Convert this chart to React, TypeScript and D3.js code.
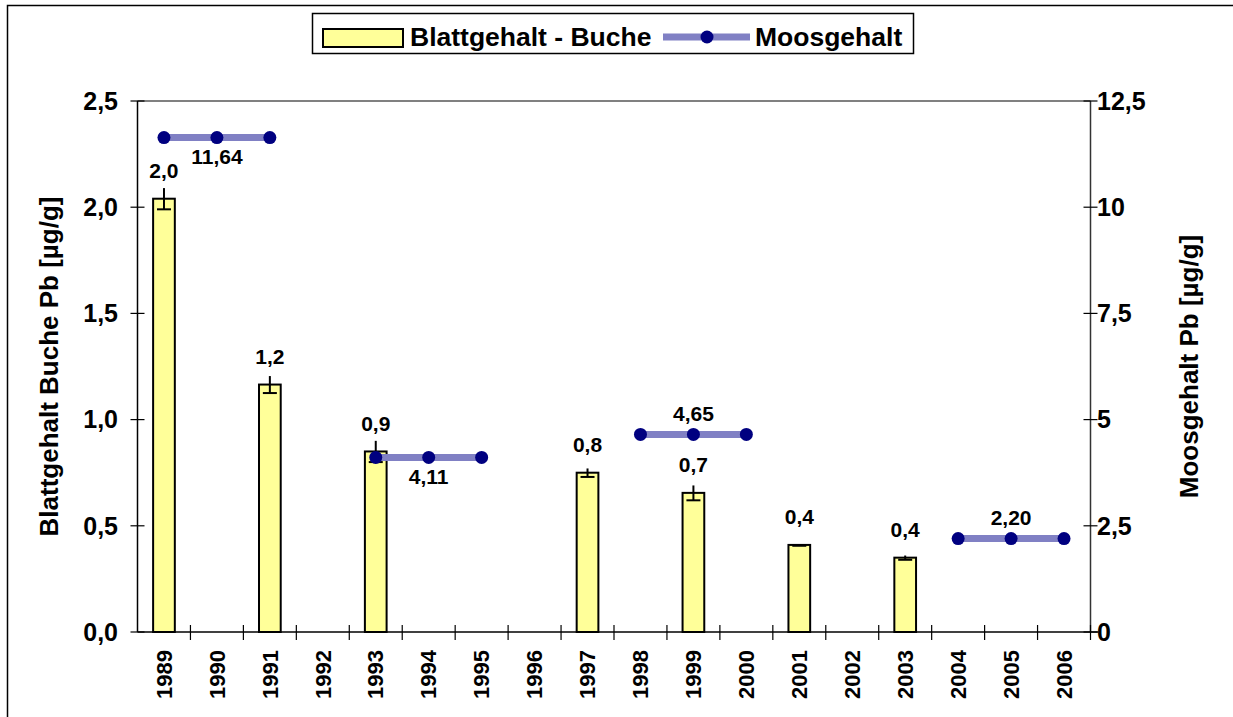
import React, { useEffect, useRef } from 'react'
import * as d3 from 'd3'

const years = ['1989', '1990', '1991', '1992', '1993', '1994', '1995', '1996', '1997', '1998', '1999', '2000', '2001', '2002', '2003', '2004', '2005', '2006']

// Blattgehalt Buche (bars)
const leafYears = ['1989', '1991', '1993', '1997', '1999', '2001', '2003']
const leafValues = [2.04, 1.165, 0.85, 0.75, 0.655, 0.41, 0.35]
const leafErrors = [0.05, 0.04, 0.05, 0.02, 0.035, 0.004, 0.01]
const leafLabels = ['2,0', '1,2', '0,9', '0,8', '0,7', '0,4', '0,4']

// Moosgehalt (line segments)
const mossSegments = [
  ['1989', '1990', '1991'],
  ['1993', '1994', '1995'],
  ['1998', '1999', '2000'],
  ['2004', '2005', '2006']
]
const mossValues = [11.64, 4.11, 4.65, 2.2]
const mossLabels = ['11,64', '4,11', '4,65', '2,20']
const mossLabelAbove = [false, false, true, true]

const leftTicks = [0, 0.5, 1, 1.5, 2, 2.5]
const rightTicks = [0, 2.5, 5, 7.5, 10, 12.5]

const fmtLeft = (d) => d.toFixed(1).replace('.', ',')
const fmtRight = (d) => String(d).replace('.', ',')

const W = 1233
const H = 717
const FONT = 'Liberation Sans, Arial, sans-serif'

const makeChart = (node) => {
  const svg = d3.select(node)
  svg.selectAll('*').remove()

  const left = 137.5
  const right = 1090.5
  const top = 101
  const bottom = 632

  const x = d3.scaleBand().domain(years).range([left, right])
  const yL = d3.scaleLinear().domain([0, 2.5]).range([bottom, top])
  const yR = d3.scaleLinear().domain([0, 12.5]).range([bottom, top])

  // outer frame (only top + left edges visible)
  svg.append('rect')
    .attr('x', 7.5).attr('y', 5.5)
    .attr('width', 1400).attr('height', 900)
    .attr('fill', 'none').attr('stroke', '#000').attr('stroke-width', 1.5)

  // plot area top border
  svg.append('line')
    .attr('x1', left).attr('x2', right).attr('y1', top).attr('y2', top)
    .attr('stroke', '#808080').attr('stroke-width', 2)

  // left axis
  const gL = svg.append('g').attr('font-family', FONT).attr('font-weight', 'bold')
  gL.append('line').attr('x1', left).attr('x2', left).attr('y1', top).attr('y2', bottom)
    .attr('stroke', '#000').attr('stroke-width', 1.5)
  leftTicks.forEach((t) => {
    gL.append('line').attr('x1', left - 7).attr('x2', left + 7)
      .attr('y1', yL(t)).attr('y2', yL(t)).attr('stroke', '#000').attr('stroke-width', 1.2)
    gL.append('text').attr('x', 118).attr('y', yL(t)).attr('dy', '0.35em')
      .attr('text-anchor', 'end').attr('font-size', 25).text(fmtLeft(t))
  })
  gL.append('text')
    .attr('transform', `translate(58, ${(top + bottom) / 2}) rotate(-90)`)
    .attr('text-anchor', 'middle').attr('font-size', 26)
    .text('Blattgehalt Buche Pb [µg/g]')

  // right axis
  const gR = svg.append('g').attr('font-family', FONT).attr('font-weight', 'bold')
  gR.append('line').attr('x1', right).attr('x2', right).attr('y1', top).attr('y2', bottom)
    .attr('stroke', '#333').attr('stroke-width', 1.5)
  rightTicks.forEach((t) => {
    gR.append('line').attr('x1', right - 7).attr('x2', right + 7)
      .attr('y1', yR(t)).attr('y2', yR(t)).attr('stroke', '#000').attr('stroke-width', 1.2)
    gR.append('text').attr('x', 1097).attr('y', yR(t)).attr('dy', '0.35em')
      .attr('text-anchor', 'start').attr('font-size', 25).text(fmtRight(t))
  })
  gR.append('text')
    .attr('transform', `translate(1198, ${(top + bottom) / 2}) rotate(-90)`)
    .attr('text-anchor', 'middle').attr('font-size', 26)
    .text('Moosgehalt Pb [µg/g]')

  // x axis
  const gX = svg.append('g').attr('font-family', FONT).attr('font-weight', 'bold')
  gX.append('line').attr('x1', left).attr('x2', right + 8).attr('y1', bottom).attr('y2', bottom)
    .attr('stroke', '#000').attr('stroke-width', 1.5)
  years.forEach((yr, i) => {
    const bx = x(yr)
    if (i > 0) {
      gX.append('line').attr('x1', bx).attr('x2', bx).attr('y1', bottom - 7).attr('y2', bottom + 8)
        .attr('stroke', '#000').attr('stroke-width', 1.2)
    }
    gX.append('text')
      .attr('transform', `translate(${bx + x.bandwidth() / 2}, 650) rotate(-90)`)
      .attr('dy', '0.35em').attr('text-anchor', 'end').attr('font-size', 22)
      .text(yr)
  })
  gX.append('line').attr('x1', right).attr('x2', right).attr('y1', bottom - 7).attr('y2', bottom + 8)
    .attr('stroke', '#000').attr('stroke-width', 1.2)

  // bars with error bars (cap only at the lower end)
  const barW = x.bandwidth() * 0.41
  const bars = svg.append('g')
  leafYears.forEach((yr, i) => {
    const cx = x(yr) + x.bandwidth() / 2
    bars.append('rect')
      .attr('x', cx - barW / 2).attr('y', yL(leafValues[i]))
      .attr('width', barW).attr('height', yL(0) - yL(leafValues[i]))
      .attr('fill', '#FFFF99').attr('stroke', '#000').attr('stroke-width', 2)
    const e1 = yL(leafValues[i] + leafErrors[i])
    const e2 = yL(leafValues[i] - leafErrors[i])
    bars.append('line').attr('x1', cx).attr('x2', cx).attr('y1', e1).attr('y2', e2)
      .attr('stroke', '#000').attr('stroke-width', 2)
    bars.append('line').attr('x1', cx - 7).attr('x2', cx + 7).attr('y1', e2).attr('y2', e2)
      .attr('stroke', '#000').attr('stroke-width', 2)
  })

  // moss line segments
  const line = d3.line()
    .x((d) => x(d[0]) + x.bandwidth() / 2)
    .y((d) => yR(d[1]))
  const moss = svg.append('g')
  mossSegments.forEach((seg, i) => {
    const pts = seg.map((yr) => [yr, mossValues[i]])
    moss.append('path').attr('d', line(pts))
      .attr('fill', 'none').attr('stroke', '#8080C4').attr('stroke-width', 7)
    pts.forEach((p) => {
      moss.append('circle')
        .attr('cx', x(p[0]) + x.bandwidth() / 2).attr('cy', yR(p[1])).attr('r', 6.5)
        .attr('fill', '#000080')
    })
  })

  // labels
  const labels = svg.append('g').attr('font-family', FONT).attr('font-weight', 'bold')
    .attr('font-size', 21).attr('text-anchor', 'middle')
  leafYears.forEach((yr, i) => {
    labels.append('text')
      .attr('x', x(yr) + x.bandwidth() / 2)
      .attr('y', yL(leafValues[i]) - 28).attr('dy', '0.35em')
      .text(leafLabels[i])
  })
  mossSegments.forEach((seg, i) => {
    const mid = seg[1]
    labels.append('text')
      .attr('x', x(mid) + x.bandwidth() / 2)
      .attr('y', yR(mossValues[i]) + (mossLabelAbove[i] ? -21 : 19)).attr('dy', '0.35em')
      .text(mossLabels[i])
  })

  // legend
  const lg = svg.append('g').attr('font-family', FONT).attr('font-weight', 'bold').attr('font-size', 26.5)
  lg.append('rect').attr('x', 312.5).attr('y', 13.5).attr('width', 601).attr('height', 40)
    .attr('fill', '#fff').attr('stroke', '#000').attr('stroke-width', 1.5)
  lg.append('rect').attr('x', 323).attr('y', 29).attr('width', 80).attr('height', 18)
    .attr('fill', '#FFFF99').attr('stroke', '#000').attr('stroke-width', 2)
  lg.append('text').attr('x', 410).attr('y', 37).attr('dy', '0.35em').text('Blattgehalt - Buche')
  lg.append('line').attr('x1', 663).attr('x2', 750).attr('y1', 37).attr('y2', 37)
    .attr('stroke', '#8080C4').attr('stroke-width', 7)
  lg.append('circle').attr('cx', 707).attr('cy', 37).attr('r', 6.5).attr('fill', '#000080')
  lg.append('text').attr('x', 755).attr('y', 37).attr('dy', '0.35em').text('Moosgehalt')
}

const App = () => {
  const ref = useRef(null)

  useEffect(() => {
    document.body.style.margin = '0'
    makeChart(ref.current)
  }, [])

  return (
    <svg ref={ref} width={W} height={H} style={{ display: 'block', background: '#fff' }}></svg>
  )
}

export default App
